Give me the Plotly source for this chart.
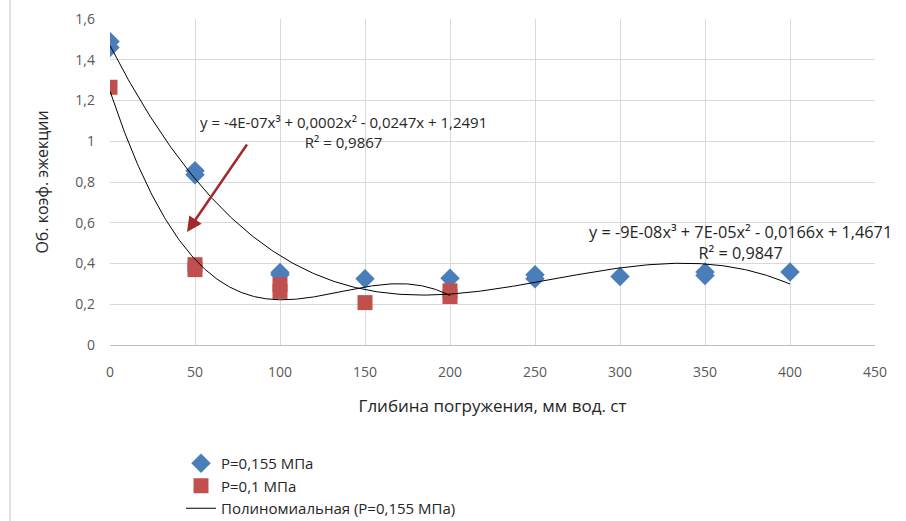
import numpy as np
import plotly.graph_objects as go

# Data
x_blue = [0, 0, 50, 50, 100, 100, 150, 200, 250, 250, 300, 350, 350, 400]
y_blue = [1.49, 1.46, 0.855, 0.835, 0.356, 0.345, 0.325, 0.328, 0.345, 0.325, 0.336, 0.358, 0.341, 0.358]
x_red = [0, 50, 50, 100, 100, 150, 200, 200]
y_red = [1.265, 0.394, 0.37, 0.296, 0.263, 0.208, 0.266, 0.238]

name_blue = "P=0,155 МПа"
name_red = "P=0,1 МПа"
name_fit_blue = "Полиномиальная (P=0,155 МПа)"
name_fit_red = "Полиномиальная (P=0,1 МПа)"

eq_red = "y = -4E-07x³ + 0,0002x² - 0,0247x + 1,2491<br>R² = 0,9867"
eq_blue = "y = -9E-08x³ + 7E-05x² - 0,0166x + 1,4671<br>R² = 0,9847"

x_ticks = [0, 50, 100, 150, 200, 250, 300, 350, 400, 450]
y_ticks = [0, 0.2, 0.4, 0.6, 0.8, 1.0, 1.2, 1.4, 1.6]
y_ticktext = ["0", "0,2", "0,4", "0,6", "0,8", "1", "1,2", "1,4", "1,6"]

x_title = "Глибина погружения, мм вод. ст"
y_title = "Об. коэф. эжекции"

# cubic trendlines fitted to the data (as Excel does)
cb = np.polyfit(x_blue, y_blue, 3)
cr = np.polyfit(x_red, y_red, 3)
xb = np.linspace(min(x_blue), max(x_blue), 300)
xr = np.linspace(min(x_red), max(x_red), 300)

FONT = "Open Sans"
GRAY = "#595959"
DARK = "#262626"

# pixel helpers for annotation placement (plot area: x 110..875, y 19..345)
def px_x(p):
    return (p - 110) / 765 * 450

def px_y(p):
    return (345 - p) / 326 * 1.6

fig = go.Figure()
fig.add_trace(go.Scatter(x=x_blue, y=y_blue, mode="markers", name=name_blue,
                         marker=dict(symbol="diamond", size=15, color="#4A7EBB")))
fig.add_trace(go.Scatter(x=x_red, y=y_red, mode="markers", name=name_red,
                         marker=dict(symbol="square", size=15, color="#C0504D")))
fig.add_trace(go.Scatter(x=xb, y=np.polyval(cb, xb), mode="lines", name=name_fit_blue,
                         line=dict(color="black", width=1)))
fig.add_trace(go.Scatter(x=xr, y=np.polyval(cr, xr), mode="lines", name=name_fit_red,
                         line=dict(color="black", width=1), showlegend=False))

fig.add_annotation(x=px_x(343), y=px_y(132), xref="x", yref="y", text=eq_red,
                   showarrow=False, font=dict(family=FONT, size=15, color=DARK),
                   align="center")
fig.add_annotation(x=px_x(740), y=px_y(242), xref="x", yref="y", text=eq_blue,
                   showarrow=False, font=dict(family=FONT, size=16.3, color=DARK),
                   align="center")
# red arrow
fig.add_annotation(x=px_x(187), y=px_y(232), ax=px_x(248), ay=px_y(143), xref="x", yref="y",
                   axref="x", ayref="y", text="", showarrow=True, arrowhead=2,
                   arrowsize=1.2, arrowwidth=2.5, arrowcolor="#A32A2A")

# outer chart border on the left
fig.add_shape(type="line", xref="paper", yref="paper",
              x0=(10 - 110) / 765, x1=(10 - 110) / 765, y0=-1, y1=1.2,
              line=dict(color="#D9D9D9", width=1.5))

fig.update_layout(
    width=906, height=521,
    margin=dict(l=110, r=31, t=19, b=176, autoexpand=False),
    paper_bgcolor="white", plot_bgcolor="white",
    font=dict(family=FONT, color=GRAY, size=14),
    showlegend=True,
    legend=dict(x=(181 - 110) / 765, y=(345 - 525) / 326, xanchor="left", yanchor="bottom",
                font=dict(family=FONT, size=15, color=DARK),
                bgcolor="rgba(0,0,0,0)", tracegroupgap=0, itemwidth=30),
    xaxis=dict(range=[0, 450], tickvals=x_ticks, showgrid=True, gridcolor="#D9D9D9",
               zeroline=False, showline=True, linecolor="#BFBFBF", ticks="",
               automargin=False,
               ticklabelstandoff=14, tickfont=dict(size=14, color=GRAY),
               title=dict(text=x_title, font=dict(size=17, color=DARK), standoff=20)),
    yaxis=dict(range=[0, 1.6], tickvals=y_ticks, ticktext=y_ticktext, showgrid=True,
               gridcolor="#D9D9D9", zeroline=False, showline=False, ticks="",
               automargin=False,
               ticklabelstandoff=14, tickfont=dict(size=14, color=GRAY),
               title=dict(text=y_title, font=dict(size=16, color=DARK), standoff=22)),
)

fig.write_html("out.html", config={"displayModeBar": False},
               post_script="document.body.style.margin='0';document.body.style.overflow='hidden';")
